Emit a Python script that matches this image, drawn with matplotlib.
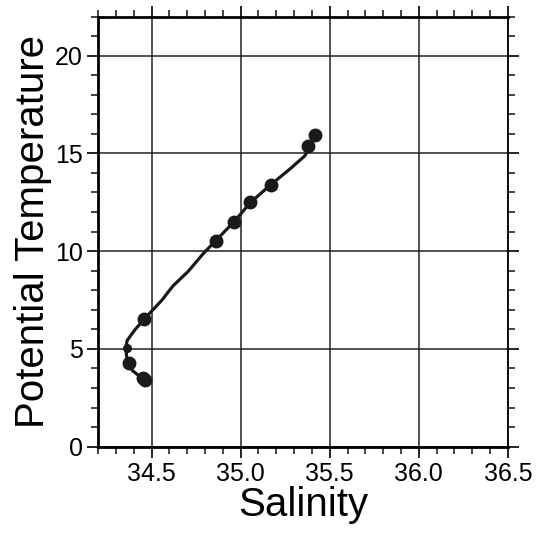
import matplotlib.pyplot as plt
from matplotlib.ticker import MultipleLocator

plt.rcParams["font.family"] = ["Liberation Sans", "DejaVu Sans"]

# bottle samples (markers)
bottle_sal = [35.42, 35.38, 35.17, 35.055, 34.96, 34.86, 34.46, 34.375, 34.45, 34.465]
bottle_temp = [15.93, 15.39, 13.38, 12.49, 11.48, 10.54, 6.55, 4.30, 3.52, 3.40]
# small sample at the turning point
small_sal = [34.36]
small_temp = [5.05]

# continuous profile (line)
line_sal = [35.38, 35.36, 35.275, 35.167, 35.055, 34.961, 34.86, 34.789, 34.705, 34.621,
            34.556, 34.461, 34.406, 34.363, 34.356, 34.36, 34.374, 34.393, 34.43, 34.462]
line_temp = [15.2, 14.87, 14.19, 13.38, 12.49, 11.48, 10.54, 9.86, 8.96, 8.23,
             7.47, 6.55, 5.97, 5.43, 5.04, 4.61, 4.26, 3.89, 3.62, 3.40]

fig = plt.figure(figsize=(5.45, 5.33), dpi=100)
ax = fig.add_axes([0.18, 0.162, 0.752, 0.807])

ax.plot(line_sal, line_temp, color="#1a1a1a", lw=2.3, zorder=3)
ax.plot(bottle_sal, bottle_temp, "o", color="#1a1a1a", ms=9, zorder=4)
ax.plot(small_sal, small_temp, "o", color="#1a1a1a", ms=5.5, zorder=4)

ax.set_xlim(34.2, 36.5)
ax.set_ylim(0, 22)
ax.xaxis.set_major_locator(MultipleLocator(0.5))
ax.xaxis.set_minor_locator(MultipleLocator(0.1))
ax.yaxis.set_major_locator(MultipleLocator(5))
ax.yaxis.set_minor_locator(MultipleLocator(1))
ax.set_xticks([34.5, 35.0, 35.5, 36.0, 36.5])
ax.set_xticklabels(["34.5", "35.0", "35.5", "36.0", "36.5"])

ax.grid(True, which="major", color="#222222", lw=1.1)
ax.tick_params(which="both", direction="out", top=True, right=True, color="#111111")
ax.tick_params(which="major", length=8, width=1.3, labelsize=18, pad=3)
ax.tick_params(which="minor", length=5, width=1.1)
for side in ["top", "left", "bottom"]:
    ax.spines[side].set_linewidth(2.0)
ax.spines["right"].set_linewidth(1.3)

ax.set_xlabel("Salinity", fontsize=29, labelpad=0)
ax.set_ylabel("Potential Temperature", fontsize=29, labelpad=2)

fig.savefig("out.png", dpi=100)
